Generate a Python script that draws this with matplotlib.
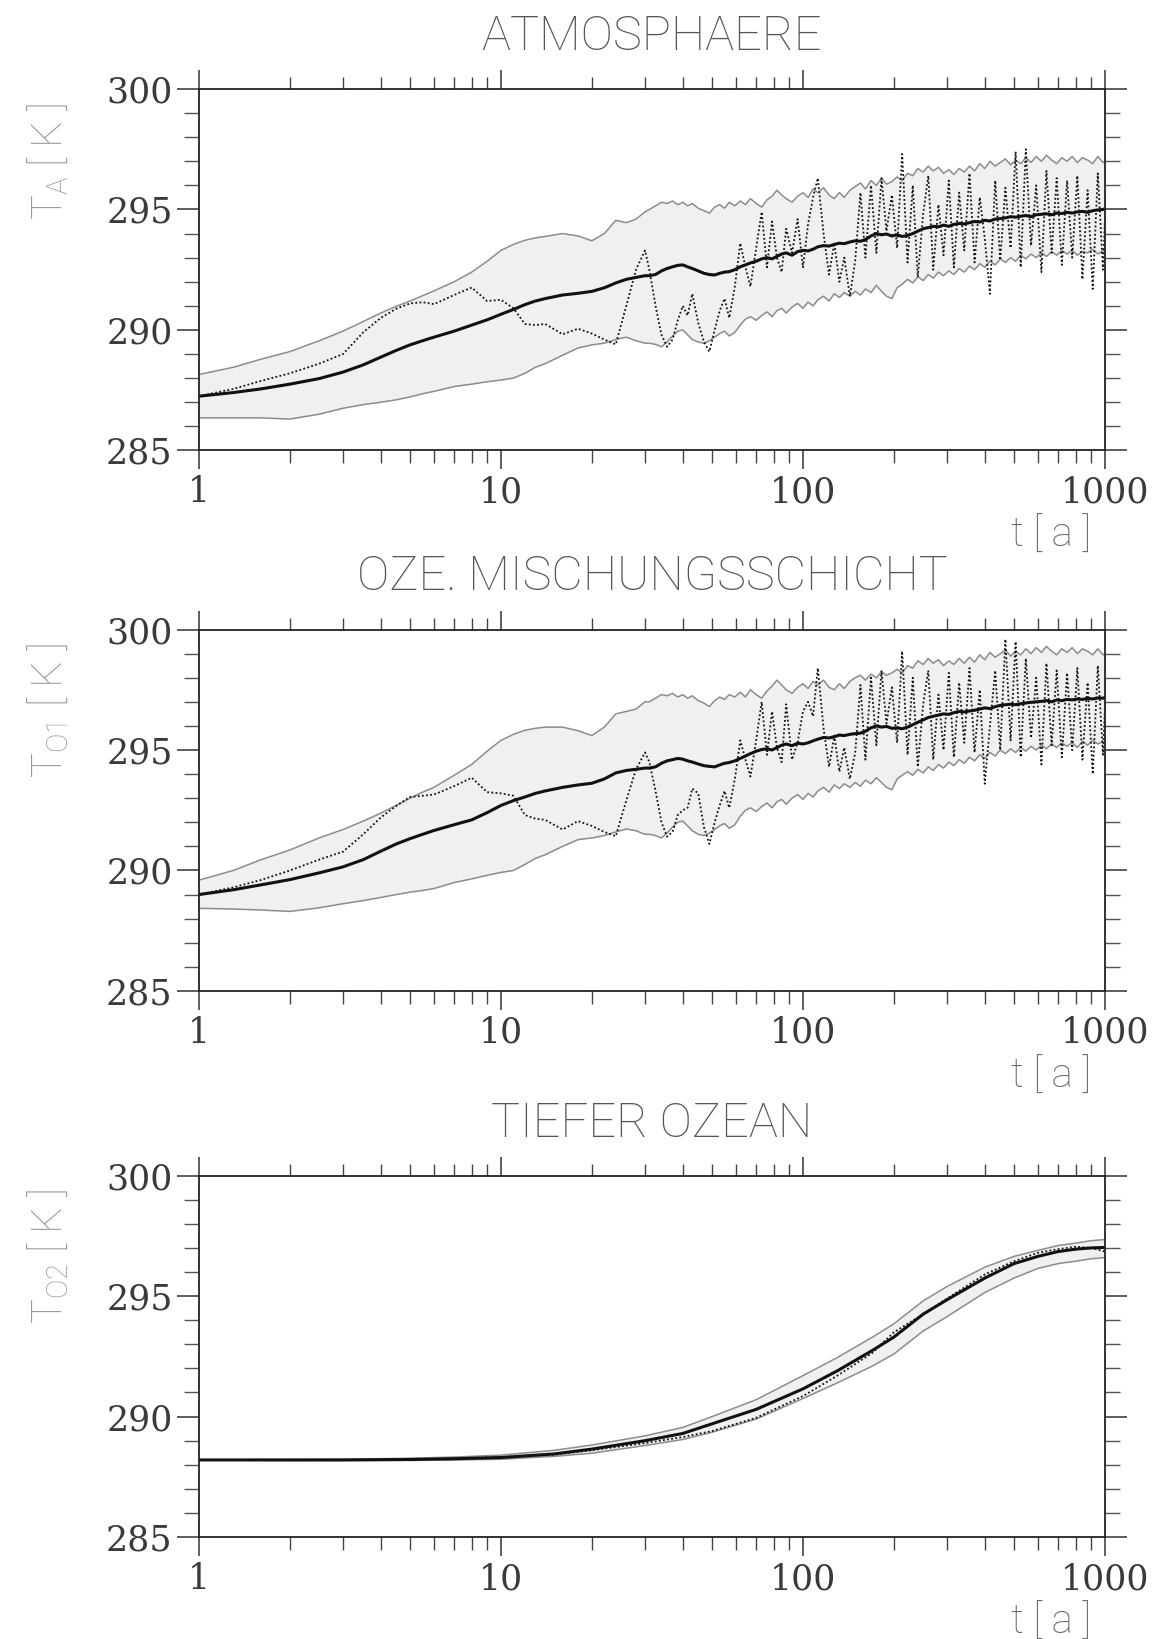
import numpy as np
import matplotlib
matplotlib.use('Agg')
import matplotlib.pyplot as plt
from matplotlib.ticker import FixedLocator, NullFormatter, FixedFormatter, MultipleLocator

# time axis [a] shared by the two upper panels
t_grid = [1, 1.3, 1.6, 2, 2.5, 3, 3.5, 4, 4.5, 5, 5.5, 6, 7, 8,
          9, 10, 11, 12, 13, 14, 16, 18, 20, 22, 24, 26, 28, 30,
          31, 32.5, 34, 35.5, 37, 38.5, 40, 41.5, 43, 45,
          47, 49, 51, 53, 55, 57, 59.5, 62, 64.5, 67,
          70, 73, 76, 79, 82, 85, 88, 92, 96, 100,
          104, 108, 112, 117, 122, 127, 132, 137, 143, 149,
          155, 161, 168, 175, 182, 189, 197, 205, 213, 222,
          231, 240, 250, 260, 270, 281, 292, 304, 316, 329,
          342, 356, 370, 385, 400, 416, 433, 450, 468, 487,
          506, 526, 547, 569, 592, 616, 640, 666, 692, 720,
          749, 779, 810, 842, 876, 911, 947, 985, 1000]

# ATMOSPHAERE
ta_mean = [287.25, 287.4, 287.55, 287.75, 287.98, 288.25, 288.55, 288.87, 289.15, 289.38, 289.55, 289.7, 289.95, 290.2,
           290.42, 290.65, 290.85, 291.05, 291.2, 291.3, 291.45, 291.52, 291.6, 291.75, 291.95, 292.1, 292.18, 292.25,
           292.25, 292.3, 292.45, 292.55, 292.62, 292.68, 292.7, 292.62, 292.55, 292.45,
           292.35, 292.3, 292.28, 292.35, 292.4, 292.42, 292.5, 292.62, 292.7, 292.78,
           292.85, 292.95, 293.0, 292.95, 293.05, 293.15, 293.2, 293.1, 293.25, 293.3,
           293.28, 293.35, 293.45, 293.5, 293.48, 293.55, 293.6, 293.58, 293.65, 293.7,
           293.68, 293.75, 293.9, 294.0, 293.95, 293.98, 293.9, 293.95, 293.88, 293.92,
           294.0, 294.1, 294.2, 294.25, 294.3, 294.28, 294.35, 294.3, 294.38, 294.42,
           294.4, 294.45, 294.5, 294.48, 294.55, 294.52, 294.6, 294.62, 294.65, 294.7,
           294.68, 294.72, 294.75, 294.7, 294.78, 294.8, 294.82, 294.78, 294.85, 294.83,
           294.88, 294.85, 294.9, 294.92, 294.88, 294.95, 294.98, 295.0, 295.03]
ta_up = [288.15, 288.45, 288.78, 289.1, 289.55, 289.95, 290.35, 290.7, 290.98, 291.2, 291.42, 291.62, 292.0, 292.4,
         292.85, 293.3, 293.55, 293.72, 293.82, 293.88, 294.0, 293.9, 293.7, 294.0, 294.55, 294.45, 294.6, 294.9,
         295.0, 295.15, 295.3, 295.25, 295.35, 295.2, 295.3, 295.15, 295.25, 295.05,
         294.95, 294.85, 295.1, 295.2, 295.05, 295.3, 295.15, 295.35, 295.2, 295.45,
         295.25, 295.1, 295.4, 295.55, 295.8, 295.6, 295.45, 295.3, 295.55, 295.7,
         295.5, 295.85, 295.7, 295.9, 295.6, 295.45, 295.7, 295.5, 295.8, 295.95,
         296.1, 295.85, 296.2, 296.0, 296.3, 296.05, 296.15, 296.35, 296.2, 296.5,
         296.4, 296.7, 296.55, 296.8, 296.6, 296.75, 296.5, 296.65, 296.45, 296.7,
         296.55, 296.8, 296.6, 296.9, 296.7, 297.0, 296.8, 296.95, 297.1, 296.85,
         297.05, 296.9, 297.15, 296.95, 297.2, 297.0, 297.25, 297.05, 296.9, 297.15,
         297.0, 297.2, 296.95, 297.15, 297.05, 296.9, 297.2, 296.95, 297.0]
ta_lo = [286.35, 286.35, 286.35, 286.3, 286.5, 286.75, 286.9, 287.0, 287.1, 287.22, 287.35, 287.45, 287.65, 287.75,
         287.85, 287.92, 288.0, 288.2, 288.45, 288.6, 288.95, 289.25, 289.38, 289.45, 289.6, 289.7, 289.55, 289.45,
         289.45, 289.4, 289.3, 289.5, 289.75, 289.95, 290.0, 289.8, 289.6, 289.5,
         289.45, 289.55, 289.7, 289.85, 289.95, 289.75, 289.9, 290.2, 290.45, 290.55,
         290.4, 290.6, 290.75, 290.55, 290.8, 290.9, 290.7, 290.95, 291.1, 290.9,
         291.15, 291.0, 291.25, 291.4, 291.2, 291.5, 291.35, 291.55, 291.4, 291.6,
         291.45, 291.7, 291.55, 291.85, 291.6, 291.4, 291.3, 291.75, 291.9, 292.1,
         291.95, 292.2, 292.05, 292.3, 292.15, 292.4, 292.25, 292.45, 292.3, 292.55,
         292.4, 292.65, 292.5, 292.75, 292.6, 292.85, 292.7, 292.95, 292.8, 293.0,
         292.85, 293.1, 292.95, 293.15, 293.0, 293.2, 293.05, 293.25, 293.1, 293.3,
         293.15, 293.3, 293.1, 293.25, 293.2, 293.35, 293.15, 293.3, 293.25]
ta_run = [287.25, 287.55, 287.88, 288.2, 288.6, 289.0, 289.9, 290.5, 290.88, 291.1, 291.15, 291.07, 291.45, 291.76,
          291.2, 291.25, 290.9, 290.25, 290.2, 290.25, 289.82, 290.05, 289.85, 289.6, 289.4, 291.0, 292.5, 293.3,
          292.5, 291.0, 289.8, 289.3, 289.6, 290.4, 291.0, 290.6, 291.5, 290.3,
          289.5, 289.1, 290.0, 290.8, 291.3, 290.5, 291.8, 293.6, 292.6, 291.8,
          293.4, 294.9, 292.6, 294.5, 293.0, 292.4, 294.2, 293.2, 294.6, 292.6,
          294.4, 295.5, 296.3, 294.0, 292.3, 293.6, 292.0, 293.0, 291.4, 292.9,
          295.7, 293.0, 296.0, 293.2, 296.3, 294.1, 295.6, 293.4, 297.3, 292.8,
          296.0, 292.2, 294.8, 296.4, 292.5, 295.2, 293.1, 296.2, 292.6, 295.7,
          293.3, 296.5, 292.8, 295.5, 293.8, 291.5, 296.2, 292.9, 295.9, 293.4,
          297.4, 292.6, 297.5, 293.5, 296.0, 292.4, 296.6, 293.2, 296.3, 292.7,
          296.2, 293.0, 296.4, 292.1, 295.8, 291.7, 296.5, 292.5, 294.6]

# OZE. MISCHUNGSSCHICHT
to1_mean = [289.0, 289.2, 289.4, 289.62, 289.9, 290.15, 290.45, 290.8, 291.1, 291.32, 291.5, 291.66, 291.9, 292.1,
            292.4, 292.7, 292.9, 293.05, 293.2, 293.3, 293.45, 293.55, 293.62, 293.8, 294.05, 294.15, 294.2, 294.25,
            294.25, 294.3, 294.45, 294.55, 294.6, 294.65, 294.62, 294.55, 294.5, 294.42,
            294.35, 294.32, 294.3, 294.38, 294.45, 294.48, 294.55, 294.65, 294.75, 294.85,
            294.95, 295.02, 295.05, 295.0, 295.1, 295.2, 295.25, 295.18, 295.28, 295.25,
            295.3, 295.38, 295.45, 295.52, 295.5, 295.55, 295.62, 295.6, 295.65, 295.68,
            295.7, 295.78, 295.92, 296.0, 295.95, 295.98, 295.9, 295.92, 295.88, 295.95,
            296.05, 296.15, 296.25, 296.35, 296.4, 296.45, 296.5, 296.48, 296.55, 296.6,
            296.58, 296.62, 296.65, 296.7, 296.75, 296.72, 296.8, 296.85, 296.88, 296.9,
            296.88, 296.92, 296.95, 296.98, 297.0, 297.02, 297.05, 297.0, 297.08, 297.05,
            297.1, 297.08, 297.12, 297.1, 297.14, 297.12, 297.16, 297.15, 297.18]
to1_up = [289.6, 290.0, 290.44, 290.85, 291.35, 291.7, 292.05, 292.38, 292.7, 293.0, 293.25, 293.45, 293.95, 294.4,
          294.95, 295.4, 295.65, 295.82, 295.9, 295.95, 295.95, 295.8, 295.6, 295.95, 296.5, 296.6, 296.7, 297.0,
          297.0, 297.15, 297.3, 297.25, 297.35, 297.2, 297.3, 297.15, 297.25, 297.05,
          296.95, 296.8, 297.05, 297.2, 297.1, 297.3, 297.2, 297.4, 297.2, 297.5,
          297.3, 297.15, 297.45, 297.65, 297.9, 297.7, 297.5, 297.35, 297.6, 297.75,
          297.55, 297.85, 297.7, 297.9, 297.6, 297.5, 297.75, 297.55, 297.85, 298.0,
          298.1, 297.9, 298.15, 298.0, 298.25, 298.1, 298.2, 298.35, 298.2, 298.5,
          298.4, 298.7, 298.55, 298.8, 298.6, 298.75, 298.5, 298.7, 298.55, 298.8,
          298.6, 298.85, 298.65, 298.95, 298.75, 299.05, 298.85, 299.0, 299.15, 298.9,
          299.1, 298.95, 299.2, 299.0, 299.25, 299.05, 299.3, 299.1, 298.95, 299.2,
          299.05, 299.25, 299.0, 299.2, 299.1, 298.95, 299.2, 298.95, 299.0]
to1_lo = [288.43, 288.4, 288.36, 288.3, 288.45, 288.62, 288.75, 288.88, 289.0, 289.1, 289.17, 289.25, 289.5, 289.65,
          289.8, 289.92, 290.0, 290.25, 290.5, 290.65, 291.0, 291.28, 291.35, 291.45, 291.6, 291.72, 291.65, 291.5,
          291.5, 291.45, 291.35, 291.55, 291.8, 292.0, 292.05, 291.85, 291.65, 291.5,
          291.45, 291.55, 291.7, 291.85, 291.95, 291.75, 291.9, 292.25, 292.5, 292.6,
          292.45, 292.65, 292.8, 292.6, 292.85, 292.95, 292.75, 293.0, 293.15, 292.95,
          293.2, 293.05, 293.3, 293.45, 293.25, 293.55, 293.4, 293.6, 293.45, 293.65,
          293.5, 293.75, 293.6, 293.85, 293.65, 293.45, 293.35, 293.8, 293.95, 294.1,
          293.95, 294.2, 294.05, 294.3, 294.15, 294.4, 294.25, 294.5, 294.35, 294.6,
          294.45, 294.7, 294.55, 294.8, 294.65, 294.9, 294.75, 295.0, 294.85, 295.05,
          294.9, 295.1, 294.95, 295.15, 295.0, 295.2, 295.05, 295.25, 295.1, 295.3,
          295.15, 295.3, 295.1, 295.35, 295.2, 295.4, 295.25, 295.35, 295.3]
to1_run = [289.0, 289.3, 289.6, 290.0, 290.45, 290.78, 291.5, 292.2, 292.68, 293.05, 293.1, 293.15, 293.5, 293.85,
           293.25, 293.2, 293.1, 292.3, 292.15, 292.1, 291.7, 292.05, 291.85, 291.6, 291.42, 292.9, 294.2, 294.9,
           294.5, 293.3, 292.0, 291.4, 291.6, 292.3, 292.5, 292.6, 293.4, 293.2,
           291.8, 291.1, 292.0, 292.7, 293.3, 292.6, 293.8, 295.4, 294.6, 293.9,
           295.4, 297.0, 294.8, 296.6, 295.1, 294.5, 296.9, 294.6, 295.3, 296.6,
           297.0, 296.4, 298.4, 295.9, 294.3, 295.6, 294.1, 295.1, 293.8, 294.9,
           297.7, 294.6, 298.0, 295.2, 298.3, 296.1, 297.6, 295.3, 299.1, 294.8,
           298.0, 294.3, 296.9, 298.3, 294.6, 297.3, 295.0, 298.2, 294.7, 297.8,
           295.3, 298.4, 294.9, 297.5, 293.6, 296.0, 298.3, 295.0, 299.6, 295.4,
           299.5, 294.7, 298.8, 295.5, 298.0, 294.4, 298.6, 295.2, 298.3, 294.7,
           298.2, 295.0, 298.4, 294.6, 297.8, 294.0, 298.5, 294.8, 296.8]

# TIEFER OZEAN
t_deep = [1, 2, 3, 5, 7, 10, 15, 20, 30, 40, 50, 70, 100, 130, 170, 200, 250, 300, 400, 500, 600, 700, 800, 900, 1000]
to2_mean = [288.2, 288.2, 288.2, 288.22, 288.25, 288.3, 288.45, 288.65, 289.0, 289.3, 289.7, 290.3, 291.15,
            291.9, 292.75, 293.3, 294.25, 294.85, 295.75, 296.35, 296.65, 296.85, 296.95, 297.0, 297.02]
to2_up = [288.2, 288.22, 288.23, 288.27, 288.32, 288.4, 288.6, 288.82, 289.2, 289.55, 290.0, 290.7, 291.7,
          292.45, 293.3, 293.85, 294.8, 295.4, 296.2, 296.65, 296.9, 297.1, 297.2, 297.3, 297.35]
to2_lo = [288.2, 288.18, 288.18, 288.18, 288.2, 288.23, 288.35, 288.48, 288.8, 289.05, 289.35, 289.9, 290.75,
          291.4, 292.1, 292.6, 293.55, 294.15, 295.15, 295.75, 296.15, 296.35, 296.45, 296.55, 296.6]
to2_run = [288.2, 288.2, 288.2, 288.22, 288.26, 288.32, 288.42, 288.6, 288.9, 289.15, 289.4, 289.95, 290.85,
           291.7, 292.65, 293.5, 294.25, 294.9, 295.9, 296.45, 296.8, 296.95, 297.05, 297.0, 296.85]

titles = ['ATMOSPHAERE', 'OZE. MISCHUNGSSCHICHT', 'TIEFER OZEAN']
ylabels = [r'T$_\mathregular{A}$ [ K ]', r'T$_\mathregular{O1}$ [ K ]', r'T$_\mathregular{O2}$ [ K ]']
ylabel_y = [0.80, 0.775, 0.775]
xticks = [1, 10, 100, 1000]
yticks = [285, 290, 295, 300]

plt.rcParams['mathtext.fontset'] = 'custom'
plt.rcParams['mathtext.rm'] = 'Roboto:light'

fig = plt.figure(figsize=(11.58, 16.39), dpi=100)
bottoms = [0.7252, 0.3954, 0.0622]
panels = [(t_grid, ta_mean, ta_up, ta_lo, ta_run),
          (t_grid, to1_mean, to1_up, to1_lo, to1_run),
          (t_deep, to2_mean, to2_up, to2_lo, to2_run)]

minor_x = [m * d for d in (1, 10, 100) for m in range(2, 10)]

for i, (t, mean, up, lo, run) in enumerate(panels):
    ax = fig.add_axes([0.1718, bottoms[i], 0.7824, 0.2205])
    ax.set_xscale('log')
    ax.fill_between(t, lo, up, color='#f0f0f0', lw=0)
    ax.plot(t, up, color='#8c8c8c', lw=1.1)
    ax.plot(t, lo, color='#8c8c8c', lw=1.1)
    ax.plot(t, run, color='#111111', lw=1.3, ls=(0, (1, 1.3)))
    ax.plot(t, mean, color='#111111', lw=2.2)

    ax.set_xlim(1, 1000)
    ax.set_ylim(285, 300)
    ax.xaxis.set_major_locator(FixedLocator(xticks))
    ax.xaxis.set_major_formatter(FixedFormatter([str(v) for v in xticks]))
    ax.xaxis.set_minor_locator(FixedLocator(minor_x))
    ax.xaxis.set_minor_formatter(NullFormatter())
    ax.yaxis.set_major_locator(FixedLocator(yticks))
    ax.yaxis.set_minor_locator(MultipleLocator(1))

    ax.tick_params(axis='x', which='major', direction='out', length=14, width=1.1,
                   top=True, bottom=True, pad=4, color='#333333')
    ax.tick_params(axis='x', which='minor', direction='out', length=9, width=1.0,
                   top=True, bottom=True, color='#444444')
    ax.tick_params(axis='y', which='major', direction='out', length=16, width=1.1,
                   left=True, right=True, pad=3, color='#333333')
    ax.tick_params(axis='y', which='minor', direction='out', length=11, width=1.0,
                   left=True, right=True, color='#555555')
    for lab in ax.get_xticklabels() + ax.get_yticklabels():
        lab.set_fontfamily('DejaVu Serif')
        lab.set_fontsize(25)
        lab.set_color('#3a3a3a')
    for sp in ax.spines.values():
        sp.set_color('#222222')
        sp.set_linewidth(1.3)

    ax.text(0.5, 1.145, titles[i], transform=ax.transAxes, ha='center', va='center',
            fontsize=35, family='Roboto', fontweight='light', color='#555555')
    ax.text(0.94, -0.235, 't [ a ]', transform=ax.transAxes, ha='center', va='center',
            fontsize=29, family='Roboto', fontweight='light', color='#666666')
    ax.text(-0.166, ylabel_y[i], ylabels[i], transform=ax.transAxes, ha='center', va='center',
            rotation=90, fontsize=30, family='Roboto', fontweight='light', color='#999999')

fig.savefig('out.png', dpi=100, facecolor='white')
